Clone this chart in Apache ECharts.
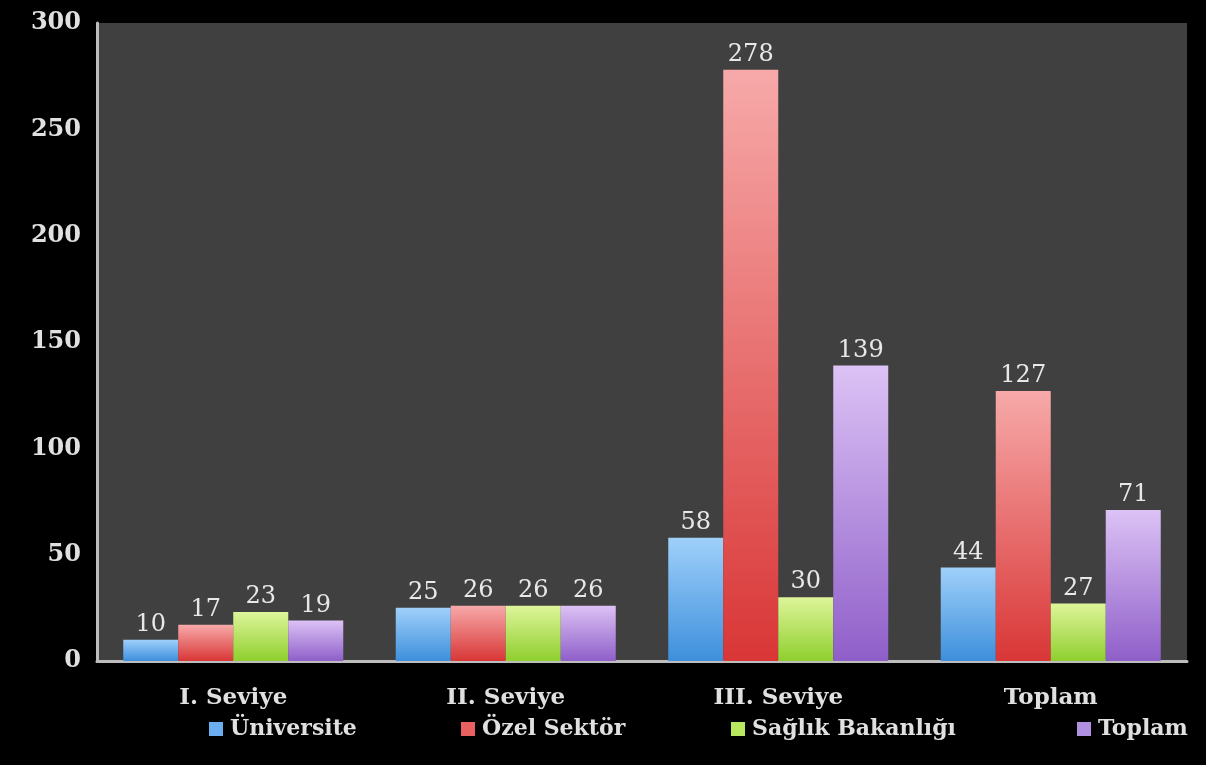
<!DOCTYPE html>
<html><head><meta charset="utf-8">
<script src="https://cdn.jsdelivr.net/npm/echarts@6/dist/echarts.min.js"></script>
<style>html,body{margin:0;padding:0;background:#000;}#c{width:1206px;height:765px;}</style>
</head><body><div id="c"></div>
<script>
const categories = ['I. Seviye', 'II. Seviye', 'III. Seviye', 'Toplam'];
const seriesNames = ['Üniversite', 'Özel Sektör', 'Sağlık Bakanlığı', 'Toplam'];
const universite = [10, 25, 58, 44];
const ozelSektor = [17, 26, 278, 127];
const saglik = [23, 26, 30, 27];
const toplam = [19, 26, 139, 71];
const yTicks = [0, 50, 100, 150, 200, 250, 300];

const values = [universite, ozelSektor, saglik, toplam];
const grads = [
  ['#9fd0fa', '#3d8fdc'],
  ['#f7a9a9', '#d93636'],
  ['#def59a', '#8fcf2e'],
  ['#dcc2f5', '#8f5fc9']
];
const legendIcon = ['#6aaef0', '#e86060', '#b8e860', '#b090e0'];
const font = '"DejaVu Serif", serif';
const chart = echarts.init(document.getElementById('c'));
const legendLefts = [209, 461, 731, 1077];
chart.setOption({
  backgroundColor: '#000',
  animation: false,
  grid: { left: 97, right: 19, top: 23, bottom: 104, show: true, backgroundColor: '#404040', borderWidth: 0 },
  legend: seriesNames.map((n, i) => ({
    data: [{ name: n, itemStyle: { color: legendIcon[i] } }],
    left: legendLefts[i], top: 718, icon: 'rect', itemWidth: 14, itemHeight: 14, itemGap: 4, padding: 0,
    textStyle: { color: '#e0e0e0', fontFamily: font, fontWeight: 'bold', fontSize: 22, padding: [0, 0, 0, 2] }
  })),
  xAxis: {
    type: 'category', data: categories,
    axisLine: { lineStyle: { color: '#bdbdbd', width: 3 } },
    axisTick: { show: false },
    axisLabel: { color: '#e0e0e0', fontFamily: font, fontWeight: 'bold', fontSize: 23, margin: 26 }
  },
  yAxis: {
    type: 'value', min: 0, max: 300, interval: 50,
    axisLine: { show: true, lineStyle: { color: '#bdbdbd', width: 3 } },
    axisTick: { show: false },
    splitLine: { show: false },
    axisLabel: { color: '#e0e0e0', fontFamily: font, fontWeight: 'bold', fontSize: 24, margin: 16,
      formatter: v => yTicks.includes(v) ? String(v) : '' }
  },
  series: values.map((d, i) => ({
    name: seriesNames[i], type: 'bar', data: d, barWidth: 55, barGap: '0%',
    itemStyle: { color: new echarts.graphic.LinearGradient(0, 0, 0, 1, [
      { offset: 0, color: grads[i][0] }, { offset: 1, color: grads[i][1] }]) },
    label: { show: true, position: 'top', distance: 3, color: '#e8e8e8', fontFamily: font, fontSize: 24 }
  }))
});
</script></body></html>
